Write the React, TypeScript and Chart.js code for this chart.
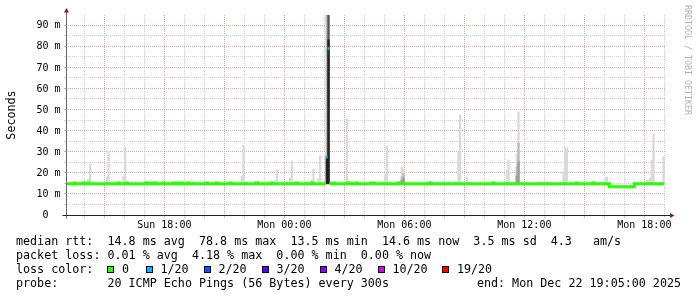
import React, { useEffect, useRef } from 'react';
import { Chart, registerables } from 'chart.js';

Chart.register(...registerables);

// ---------------- data ----------------
// time axis: Sun 13:05 .. Mon 19:05 (30 h), 5-minute samples, times are sample (bin) end times
const rangeStart = 'Sun 13:05';
const rangeEnd = 'Mon 19:05';
const Y_MAX = 94.74; // ms

const xLabelTimes = ['Sun 18:00', 'Mon 00:00', 'Mon 06:00', 'Mon 12:00', 'Mon 18:00'];
const yLabelValues = [0, 10, 20, 30, 40, 50, 60, 70, 80, 90];

// outer smoke (ping spread) – top of spread in ms
const smokeTimes = [
  'Sun 14:15', 'Sun 14:20', 'Sun 14:30', 'Sun 15:10', 'Sun 15:15', 'Sun 15:35', 'Sun 16:00', 'Sun 16:05', 'Sun 16:10',
  'Sun 17:05', 'Sun 17:10', 'Sun 17:45', 'Sun 18:15', 'Sun 19:30', 'Sun 20:30', 'Sun 21:25', 'Sun 21:55', 'Sun 22:00',
  'Sun 22:05', 'Sun 22:10', 'Sun 22:35', 'Sun 22:45', 'Sun 23:25', 'Sun 23:35', 'Sun 23:40',
  'Mon 00:10', 'Mon 00:20', 'Mon 00:25', 'Mon 01:05', 'Mon 01:25', 'Mon 01:30', 'Mon 01:45', 'Mon 01:50', 'Mon 02:10', 'Mon 02:15',
  'Mon 02:50', 'Mon 03:05', 'Mon 03:10', 'Mon 03:15', 'Mon 03:30', 'Mon 04:55', 'Mon 05:05', 'Mon 05:10', 'Mon 05:50', 'Mon 05:55',
  'Mon 06:00', 'Mon 06:25', 'Mon 07:20', 'Mon 08:00', 'Mon 08:15', 'Mon 08:35', 'Mon 08:40', 'Mon 08:45', 'Mon 08:50', 'Mon 09:10',
  'Mon 10:05', 'Mon 10:30', 'Mon 11:10', 'Mon 11:15', 'Mon 11:40', 'Mon 11:45', 'Mon 11:55', 'Mon 12:45', 'Mon 13:05', 'Mon 13:10',
  'Mon 14:00', 'Mon 14:05', 'Mon 14:10', 'Mon 15:30', 'Mon 16:05', 'Mon 16:10', 'Mon 18:10', 'Mon 18:15', 'Mon 18:20', 'Mon 18:25', 'Mon 18:30', 'Mon 19:00',
];
const smokeTops = [
  17.0, 24.2, 15.6, 18.0, 30.3, 15.5, 18.5, 32.0, 15.6,
  15.8, 15.8, 15.6, 15.5, 16.0, 15.6, 15.5, 18.5, 33.0,
  15.6, 15.6, 16.0, 16.0, 15.5, 16.5, 21.3,
  16.0, 17.5, 25.6, 16.0, 16.6, 21.8, 17.5, 28.0, 95.0, 95.0,
  15.6, 15.8, 45.4, 15.6, 15.5, 15.8, 19.0, 32.7, 15.8, 22.7,
  21.8, 15.5, 16.2, 15.5, 15.5, 15.8, 15.8, 29.8, 47.4, 18.0,
  15.5, 15.5, 21.0, 26.0, 28.9, 48.8, 15.5, 16.0, 15.6, 15.6,
  20.4, 31.8, 31.8, 15.7, 17.5, 18.0, 16.6, 16.6, 17.5, 26.0, 38.4, 27.5,
];
// denser smoke layers
const smokeMidTimes = ['Mon 02:10', 'Mon 05:55', 'Mon 06:00', 'Mon 11:40', 'Mon 11:45'];
const smokeMidTops = [95.0, 18.1, 19.5, 22.9, 34.0];
const smokeDeepTimes = ['Mon 05:55', 'Mon 06:00', 'Mon 11:40', 'Mon 11:45'];
const smokeDeepTops = [16.5, 17.5, 18.5, 25.2];
const smokeDarkTimes = ['Mon 02:15'];
const smokeDarkTops = [95.0];
const smokeCoreTimes = ['Mon 02:10', 'Mon 02:15'];
const smokeCoreTops = [27.5, 83.0];
const smokeFloor = 14.8;

// median rtt with 0 loss: step series (value holds from time to next time; null = no 0-loss sample)
const medianStepTimes = [
  'Sun 13:05', 'Sun 13:30', 'Sun 13:35', 'Sun 13:55', 'Sun 14:00', 'Sun 14:10', 'Sun 14:15',
  'Sun 15:40', 'Sun 15:45', 'Sun 16:05', 'Sun 16:10', 'Sun 17:05', 'Sun 17:10', 'Sun 17:20', 'Sun 17:25',
  'Sun 17:30', 'Sun 17:35', 'Sun 17:55', 'Sun 18:00', 'Sun 18:25', 'Sun 18:30', 'Sun 18:40', 'Sun 18:45',
  'Sun 18:50', 'Sun 18:55', 'Sun 19:10', 'Sun 19:15', 'Sun 20:05', 'Sun 20:10', 'Sun 20:35', 'Sun 20:40',
  'Sun 21:15', 'Sun 21:20', 'Sun 22:35', 'Sun 22:40', 'Sun 23:20', 'Sun 23:25',
  'Mon 00:35', 'Mon 00:40', 'Mon 01:20', 'Mon 01:25', 'Mon 02:05', 'Mon 02:15', 'Mon 02:25', 'Mon 02:30',
  'Mon 03:10', 'Mon 03:15', 'Mon 03:35', 'Mon 03:40', 'Mon 04:20', 'Mon 04:30', 'Mon 05:40', 'Mon 05:45',
  'Mon 07:15', 'Mon 07:20', 'Mon 10:25', 'Mon 10:30', 'Mon 14:35', 'Mon 14:40', 'Mon 15:25', 'Mon 15:30',
  'Mon 16:15', 'Mon 17:30', 'Mon 19:00',
];
const medianStepValues = [
  14.8, 15.2, 14.8, 15.2, 14.8, 15.2, 14.8,
  15.2, 14.8, 15.2, 14.8, 15.2, 14.8, 15.2, 14.8,
  15.2, 14.8, 15.2, 14.8, 15.2, 14.8, 15.2, 14.8,
  15.2, 14.8, 15.2, 14.8, 15.2, 14.8, 15.2, 14.8,
  15.2, 14.8, 15.2, 14.8, 15.2, 14.8,
  15.2, 14.8, 15.2, 14.8, null, 14.8, 15.2, 14.8,
  15.2, 14.8, 15.2, 14.8, 15.2, 14.8, 15.2, 14.8,
  15.2, 14.8, 15.2, 14.8, 15.2, 14.8, 15.2, 14.8,
  13.4, 14.8, 14.8,
];
// samples with packet loss
const lossTimes = ['Mon 02:10', 'Mon 02:15'];
const lossMedians = [27.5, 78.8];
const lossCounts = [1, 1];

// legend
const lossLegendLabels = ['0', '1/20', '2/20', '3/20', '4/20', '10/20', '19/20'];
const lossLegendCounts = [0, 1, 2, 3, 4, 10, 19];
const lossLegendColors = ['#26ff00', '#00b8ff', '#0059ff', '#5e00ff', '#7e00ff', '#dd00ff', '#ff0000'];
const rttStats = ['14.8 ms avg', '78.8 ms max', '13.5 ms min', '14.6 ms now', '3.5 ms sd', '4.3   am/s'];
const lossStats = ['0.01 % avg', '4.18 % max', '0.00 % min', '0.00 % now'];
const probeText = '20 ICMP Echo Pings (56 Bytes) every 300s';
const endText = 'end: Mon Dec 22 19:05:00 2025';
const watermark = 'RRDTOOL / TOBI OETIKER';

// ---------------- helpers ----------------
const absMin = (s: string) => {
  const [d, hm] = s.split(' ');
  const [h, m] = hm.split(':').map(Number);
  return (d === 'Mon' ? 1440 : 0) + h * 60 + m;
};
const START = absMin(rangeStart);
const toMin = (s: string) => absMin(s) - START;
const SPAN = toMin(rangeEnd);
const STEP = 5;

const MONO = 'DejaVu Sans Mono';
const MAJOR = '#eba3a3';
const MINOR = '#cfcfcf';

const lossColorFor = (n: number) => {
  let c = lossLegendColors[0];
  lossLegendCounts.forEach((t, i) => { if (n >= t) c = lossLegendColors[i]; });
  return c;
};

export default function App() {
  const ref = useRef<HTMLCanvasElement>(null);

  useEffect(() => {
    const canvas = ref.current;
    if (!canvas) return;

    const PLOT_LEFT = 66, PLOT_RIGHT = 666, PLOT_TOP = 15, PLOT_BOTTOM = 215;
    const W = 697, H = 297;
    const barPx = ((PLOT_RIGHT - PLOT_LEFT) * STEP) / SPAN;

    const bars = (times: string[], tops: number[], color: string, order: number) => ({
      type: 'bar',
      data: times.map((t, i) => ({ x: toMin(t) - STEP / 2, y: [smokeFloor, tops[i]] })),
      backgroundColor: color,
      borderWidth: 0,
      barThickness: barPx,
      grouped: false,
      order,
    });

    const medianPts: any[] = [];
    medianStepTimes.forEach((t, i) => {
      const x = toMin(t);
      const v = medianStepValues[i];
      if (v === null) {
        const prev = i > 0 ? medianStepValues[i - 1] : null;
        if (prev !== null) medianPts.push({ x, y: prev });
        medianPts.push({ x, y: null });
      } else medianPts.push({ x, y: v });
    });

    const lossSets = lossTimes.map((t, i) => ({
      type: 'line',
      data: [
        { x: toMin(t) - STEP, y: lossMedians[i] },
        { x: toMin(t), y: lossMedians[i] },
      ],
      borderColor: lossColorFor(lossCounts[i]),
      borderWidth: 3,
      pointRadius: 0,
      stepped: true,
      fill: false,
      order: 0,
    }));

    // hour grid ticks
    const hourTicks: number[] = [];
    for (let m = Math.ceil(START / 60) * 60; m <= START + SPAN; m += 60) hourTicks.push(m - START);
    const isMajorX = (v: number) => (Math.round((START + v) / 60) % 24) % 3 === 0;
    const labelMap = new Map(xLabelTimes.map((s) => [toMin(s), s]));
    const yGrid: number[] = [];
    yLabelValues.forEach((v) => { yGrid.push(v); if (v + 5 < Y_MAX) yGrid.push(v + 5); });

    const decor = {
      id: 'rrdDecor',
      afterDraw(chart: any) {
        const { ctx, chartArea: a } = chart;
        ctx.save();
        ctx.lineWidth = 1;
        ctx.strokeStyle = '#666';
        ctx.beginPath();
        ctx.moveTo(a.left + 0.5, a.bottom + 3.5);
        ctx.lineTo(a.left + 0.5, a.top - 3);
        ctx.stroke();
        ctx.strokeStyle = '#222';
        ctx.beginPath();
        ctx.moveTo(a.left - 3.5, a.bottom + 0.5);
        ctx.lineTo(a.right + 4, a.bottom + 0.5);
        ctx.stroke();
        ctx.fillStyle = '#8b1a1a';
        ctx.beginPath();
        ctx.moveTo(a.left + 0.5, a.top - 7);
        ctx.lineTo(a.left + 3, a.top - 2.5);
        ctx.lineTo(a.left - 2, a.top - 2.5);
        ctx.closePath();
        ctx.fill();
        ctx.beginPath();
        ctx.moveTo(a.right + 8.5, a.bottom + 0.5);
        ctx.lineTo(a.right + 4, a.bottom - 2);
        ctx.lineTo(a.right + 4, a.bottom + 3);
        ctx.closePath();
        ctx.fill();

        // watermark
        ctx.save();
        ctx.translate(687.5, 60);
        ctx.rotate(Math.PI / 2);
        ctx.font = `8.3px "${MONO}"`;
        ctx.fillStyle = '#b4b4b4';
        ctx.textAlign = 'center';
        ctx.textBaseline = 'middle';
        ctx.fillText(watermark, 0, 0);
        ctx.restore();

        // legend
        ctx.font = `11.7px "${MONO}"`;
        ctx.fillStyle = '#000';
        ctx.textAlign = 'left';
        ctx.textBaseline = 'alphabetic';
        const rows = [244.5, 258.8, 273.1, 287.4];
        ctx.fillText('median rtt:  ' + rttStats.join('  '), 16, rows[0]);
        ctx.fillText('packet loss: ' + lossStats.join('  '), 16, rows[1]);
        ctx.fillText('loss color:', 16, rows[2]);
        let sx = 16 + ctx.measureText('loss color:  ').width;
        lossLegendLabels.forEach((lab, i) => {
          const bx = Math.round(sx);
          ctx.fillStyle = '#000';
          ctx.fillRect(bx, 266, 7, 7);
          ctx.fillStyle = lossLegendColors[i];
          ctx.fillRect(bx + 1, 267, 5, 5);
          ctx.fillStyle = '#000';
          ctx.fillText(lab, sx + 14.5, rows[2]);
          sx += 32 + 6.5 * lab.length;
        });
        ctx.fillText('probe:       ' + probeText, 16, rows[3]);
        ctx.textAlign = 'right';
        ctx.fillText(endText, 681, rows[3]);
        ctx.restore();
      },
    };

    const chart = new Chart(canvas, {
      type: 'bar',
      data: {
        datasets: [
          {
            type: 'line',
            data: medianPts,
            borderColor: lossLegendColors[0],
            borderWidth: 3,
            pointRadius: 0,
            stepped: true,
            spanGaps: false,
            fill: false,
            order: 0,
          },
          ...lossSets,
          bars(smokeCoreTimes, smokeCoreTops, '#222222', 1),
          bars(smokeDarkTimes, smokeDarkTops, '#555555', 2),
          bars(smokeDeepTimes, smokeDeepTops, '#9c9c9c', 3),
          bars(smokeMidTimes, smokeMidTops, '#bdbdbd', 4),
          bars(smokeTimes, smokeTops, '#dadada', 5),
        ] as any,
      },
      options: {
        animation: false,
        responsive: false,
        devicePixelRatio: 1,
        layout: { padding: { left: 0, top: PLOT_TOP, right: W - PLOT_RIGHT, bottom: 0 } },
        plugins: { legend: { display: false }, tooltip: { enabled: false }, title: { display: false } },
        scales: {
          x: {
            type: 'linear',
            min: 0,
            max: SPAN,
            offset: false,
            afterFit: (s: any) => { s.height = H - PLOT_BOTTOM; },
            afterBuildTicks: (s: any) => { s.ticks = hourTicks.map((v) => ({ value: v })); },
            ticks: {
              autoSkip: false,
              maxRotation: 0,
              minRotation: 0,
              padding: 1,
              color: '#000',
              font: { family: MONO, size: 10 },
              callback: (v: any) => labelMap.get(Number(v)) || '',
            },
            grid: {
              color: (c: any) => (c.tick && isMajorX(c.tick.value) ? MAJOR : MINOR),
              tickLength: 3,
              offset: false,
            },
            border: { display: false, dash: [1, 1] },
          },
          y: {
            type: 'linear',
            min: 0,
            max: Y_MAX,
            afterFit: (s: any) => { s.width = PLOT_LEFT; },
            afterBuildTicks: (s: any) => { s.ticks = yGrid.map((v) => ({ value: v })); },
            ticks: {
              autoSkip: false,
              padding: 3.5,
              labelOffset: 0.7,
              color: '#000',
              font: { family: MONO, size: 10 },
              callback: (v: any) => {
                const n = Number(v);
                if (!yLabelValues.includes(n)) return '';
                return n === 0 ? '0  ' : `${n} m`;
              },
            },
            grid: {
              color: (c: any) => (c.tick && c.tick.value % 10 === 0 ? MAJOR : MINOR),
              tickLength: 2,
            },
            border: { display: false, dash: [1, 1] },
            title: {
              display: true,
              text: 'Seconds',
              color: '#000',
              font: { family: MONO, size: 11.7 },
              padding: { top: 4.5, bottom: 0 },
            },
          },
        },
      } as any,
      plugins: [decor],
    });

    return () => chart.destroy();
  }, []);

  return (
    <div style={{ position: 'fixed', left: 0, top: 0, width: 697, height: 297, background: '#fff' }}>
      <canvas ref={ref} width={697} height={297} style={{ display: 'block', width: 697, height: 297 }} />
    </div>
  );
}
